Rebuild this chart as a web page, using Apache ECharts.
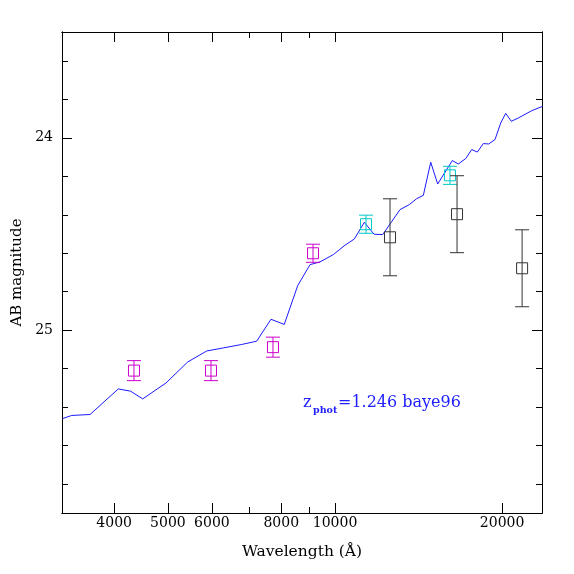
<!DOCTYPE html>
<html lang="en">
<head>
    <meta charset="utf-8">
    <title>AB magnitude vs wavelength</title>
    <script src="https://cdn.jsdelivr.net/npm/echarts@6.0.0/dist/echarts.min.js"></script>
    <style>
        html, body { margin: 0; padding: 0; background: #fff; }
        #chart { width: 574px; height: 574px; }
    </style>
</head>
<body>
<div id="chart"></div>
<script type="text/javascript">
    // model spectrum (Angstrom, AB mag)
    var modelWave = [3232, 3354, 3620, 4070, 4284, 4503, 4961, 5428, 5872, 6292, 6791, 7226, 7667, 8101, 8566,
        9016, 9397, 9930, 10423, 10834, 11293, 11757, 12187, 13096, 13612, 14036, 14425, 14874, 15311, 16267,
        16676, 17196, 17630, 18045, 18500, 18917, 19420, 19885, 20302, 20779, 21390, 22612, 23667];
    var modelMag = [25.459, 25.443, 25.438, 25.305, 25.317, 25.357, 25.274, 25.165, 25.108, 25.092, 25.074, 25.057,
        24.943, 24.970, 24.768, 24.659, 24.645, 24.607, 24.558, 24.526, 24.439, 24.501, 24.503, 24.373, 24.347,
        24.316, 24.299, 24.127, 24.240, 24.118, 24.136, 24.108, 24.061, 24.074, 24.030, 24.032, 24.009, 23.923,
        23.873, 23.914, 23.897, 23.859, 23.836];

    // photometry
    var magentaWave = [4343, 5978, 7731, 9128];
    var magentaMag = [25.21, 25.21, 25.088, 24.60];
    var magentaErr = [0.052, 0.052, 0.052, 0.047];

    var cyanWave = [11372, 16110];
    var cyanMag = [24.449, 24.195];
    var cyanErr = [0.047, 0.047];

    var blackWave = [12563, 16590, 21730];
    var blackMag = [24.517, 24.397, 24.678];
    var blackErr = [0.2, 0.2, 0.2];

    // ticks
    var xMajor = [4000, 5000, 6000, 8000, 10000, 20000];
    var xMinor = [7000, 9000];
    var yMajor = [24, 25];
    var yMinor = [23.6, 23.8, 24.2, 24.4, 24.6, 24.8, 25.2, 25.4, 25.6, 25.8];

    var xMin = Math.log10(3222), xMax = Math.log10(23600);
    var yMin = 23.45, yMax = 25.95;
    var font = 'DejaVu Serif';

    function lg(arr) {
        return arr.map(function (v) { return Math.log10(v); });
    }

    function pts(w, m, e) {
        return w.map(function (v, i) {
            return e ? [Math.log10(v), m[i], e[i]] : [Math.log10(v), m[i]];
        });
    }

    function xAxisDef(pos, values, len, labels) {
        return {
            type: 'value', position: pos, min: xMin, max: xMax,
            axisLine: {show: true, lineStyle: {color: '#000', width: 1}},
            splitLine: {show: false},
            axisTick: {show: true, inside: true, length: len, customValues: lg(values),
                lineStyle: {color: '#000', width: 1}},
            axisLabel: labels ? {
                show: true, customValues: lg(values), margin: 3,
                color: '#000', fontFamily: font, fontSize: 14,
                formatter: function (v) { return String(Math.round(Math.pow(10, v))); }
            } : {show: false}
        };
    }

    function yAxisDef(pos, values, len, labels) {
        return {
            type: 'value', position: pos, min: yMin, max: yMax, inverse: true,
            axisLine: {show: true, lineStyle: {color: '#000', width: 1}},
            splitLine: {show: false},
            axisTick: {show: true, inside: true, length: len, customValues: values,
                lineStyle: {color: '#000', width: 1}},
            axisLabel: labels ? {
                show: true, customValues: values, margin: 9,
                color: '#000', fontFamily: font, fontSize: 14
            } : {show: false}
        };
    }

    function errBars(color) {
        return function (params, api) {
            var x = api.value(0), y = api.value(1), e = api.value(2);
            var c = api.coord([x, y]);
            var hi = api.coord([x, y - e])[1];
            var lo = api.coord([x, y + e])[1];
            var cap = 7, half = 5.5;
            var st = {stroke: color, lineWidth: 1, fill: 'none'};
            return {
                type: 'group',
                children: [
                    {type: 'line', shape: {x1: c[0], y1: hi, x2: c[0], y2: lo}, style: st},
                    {type: 'line', shape: {x1: c[0] - cap, y1: hi, x2: c[0] + cap, y2: hi}, style: st},
                    {type: 'line', shape: {x1: c[0] - cap, y1: lo, x2: c[0] + cap, y2: lo}, style: st},
                    {type: 'rect', shape: {x: c[0] - half, y: c[1] - half, width: 2 * half, height: 2 * half}, style: st}
                ]
            };
        };
    }

    var myChart = echarts.init(document.getElementById('chart'));

    var xMain = xAxisDef('bottom', xMajor, 10, true);
    xMain.name = 'Wavelength (Å)';
    xMain.nameLocation = 'middle';
    xMain.nameGap = 31;
    xMain.nameTextStyle = {color: '#000', fontFamily: font, fontSize: 15.5};

    var yMain = yAxisDef('left', yMajor, 10, true);
    yMain.name = 'AB magnitude';
    yMain.nameLocation = 'middle';
    yMain.nameGap = 37;
    yMain.nameTextStyle = {color: '#000', fontFamily: font, fontSize: 15};

    var option = {
        backgroundColor: '#fff',
        animation: false,
        grid: {left: 62, right: 32, top: 32, bottom: 61, containLabel: false},
        xAxis: [
            xMain,
            xAxisDef('bottom', xMinor, 6, false),
            xAxisDef('top', xMajor, 10, false),
            xAxisDef('top', xMinor, 6, false)
        ],
        yAxis: [
            yMain,
            yAxisDef('left', yMinor, 6, false),
            yAxisDef('right', yMajor, 10, false),
            yAxisDef('right', yMinor, 6, false)
        ],
        series: [
            {
                type: 'line', data: pts(modelWave, modelMag), showSymbol: false, clip: true,
                lineStyle: {color: '#1a1aff', width: 1}, z: 2
            },
            {type: 'custom', data: pts(magentaWave, magentaMag, magentaErr), renderItem: errBars('#cc00cc'), z: 3},
            {type: 'custom', data: pts(cyanWave, cyanMag, cyanErr), renderItem: errBars('#00c8c8'), z: 3},
            {type: 'custom', data: pts(blackWave, blackMag, blackErr), renderItem: errBars('#333333'), z: 3}
        ],
        graphic: [
            {type: 'text', x: 303, y: 402.5,
                style: {text: 'z', fill: '#2020ff', font: '16px "DejaVu Serif"', verticalAlign: 'middle'}},
            {type: 'text', x: 313, y: 410.5,
                style: {text: 'phot', fill: '#2020ff', font: 'bold 9.5px "DejaVu Serif"', verticalAlign: 'middle'}},
            {type: 'text', x: 338, y: 402.5,
                style: {text: '=1.246 baye96', fill: '#2020ff', font: '16px "DejaVu Serif"', verticalAlign: 'middle'}}
        ]
    };
    myChart.setOption(option);
</script>
</body>
</html>
